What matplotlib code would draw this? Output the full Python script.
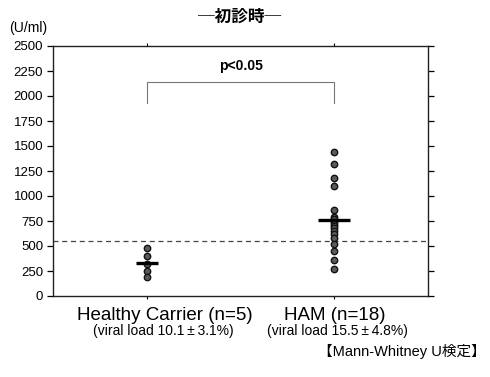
import matplotlib
matplotlib.use("Agg")
import matplotlib.pyplot as plt
import numpy as np

plt.rcParams['font.family'] = ['Liberation Sans', 'Noto Sans CJK JP', 'DejaVu Sans']

# Data (U/ml)
groups = ["Healthy Carrier (n=5)", "HAM (n=18)"]
viral_load = ["(viral load 10.1\u2009\u00b1\u20093.1%)",
              "(viral load 15.5\u2009\u00b1\u20094.8%)"]
carrier_values = [480, 400, 320, 250, 190]
ham_values = [1440, 1320, 1180, 1100, 860, 790, 770, 745, 720, 700, 680,
              650, 620, 580, 520, 450, 360, 270]
cutoff = 550
yticks = [0, 250, 500, 750, 1000, 1250, 1500, 1750, 2000, 2250, 2500]

W, H = 490, 377
fig = plt.figure(figsize=(W / 100, H / 100), dpi=100)
ax = fig.add_axes([53 / W, 1 - 296 / H, 375 / W, 250 / H])

series = [carrier_values, ham_values]
half_widths = [0.06, 0.085]
for i, vals in enumerate(series):
    xs = np.full(len(vals), i)
    ax.plot(xs, vals, 'o', ms=4.6, mfc='#5a5a5a', mec='#111111', mew=1.0,
            zorder=3)
    m = np.mean(vals)
    ax.plot([i - half_widths[i], i + half_widths[i]], [m, m], color='black',
            lw=2.4, zorder=4, solid_capstyle='butt')

ax.axhline(cutoff, color='#444444', lw=0.9, ls=(0, (4, 3)), zorder=2)

# significance bracket
ax.plot([0, 0, 1, 1], [1930, 2140, 2140, 1930], color='#777777', lw=0.8)
ax.text(0.5, 2230, "p<0.05", ha='center', va='bottom', fontsize=10,
        fontweight='bold')

ax.set_xlim(-0.5, 1.5)
ax.set_ylim(0, 2500)
ax.set_yticks(yticks)
ax.set_yticklabels([str(t) for t in yticks], fontsize=9.5)
ax.set_xticks([0, 1])
ax.set_xticklabels([])
ax.tick_params(axis='y', direction='out', length=4, width=0.9, pad=3,
               right=True)
ax.tick_params(axis='x', direction='out', length=2, width=0.8, top=True)
for s in ax.spines.values():
    s.set_linewidth(1.0)
    s.set_color('#222222')

# group labels under the axis
label_x = [165, 335]
sub_x = [163, 337]
for i in range(2):
    fig.text(label_x[i] / W, 1 - 315 / H, groups[i], ha='center',
             va='center', fontsize=13.5)
    fig.text(sub_x[i] / W, 1 - 331 / H, viral_load[i], ha='center',
             va='center', fontsize=10)

fig.text(240 / W, 1 - 17 / H, "\u2500初診時\u2500", ha='center',
         va='center', fontsize=12, fontweight='bold',
         family=['Noto Sans CJK JP', 'DejaVu Sans'])
fig.text(9 / W, 1 - 28 / H, "(U/ml)", ha='left', va='center',
         fontsize=10)
fig.text(486 / W, 1 - 351 / H, "【Mann-Whitney U検定】", ha='right',
         va='center', fontsize=10.5,
         family=['Liberation Sans', 'Noto Sans CJK JP'])

fig.savefig("out.png", dpi=100)
